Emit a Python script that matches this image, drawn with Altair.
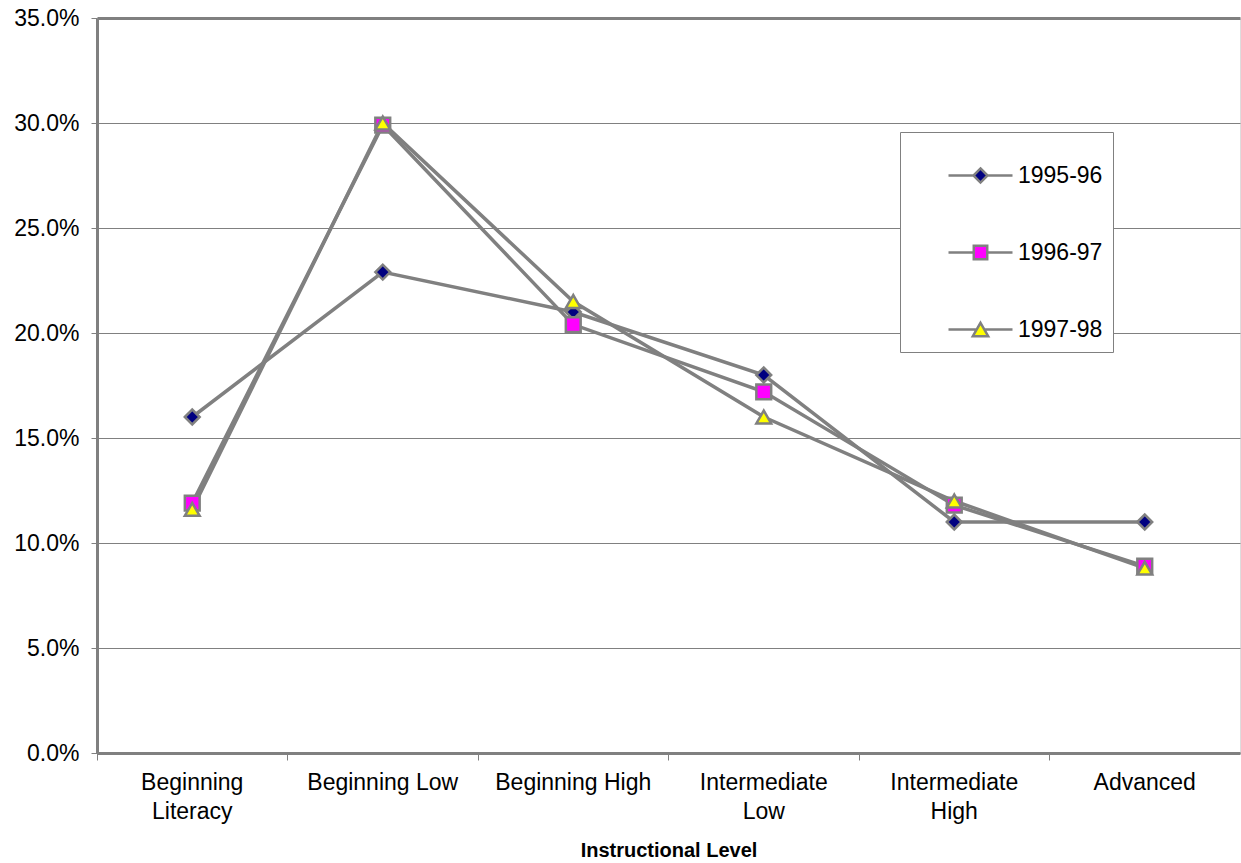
import altair as alt
import pandas as pd

# Share of enrollment by instructional level, three program years (percent)
levels = ["Beginning Literacy", "Beginning Low", "Beginning High",
          "Intermediate Low", "Intermediate High", "Advanced"]
years = ["1995-96", "1996-97", "1997-98"]
share_1995_96 = [16.0, 22.9, 21.0, 18.0, 11.0, 11.0]
share_1996_97 = [11.9, 29.9, 20.4, 17.2, 11.8, 8.9]
share_1997_98 = [11.6, 30.0, 21.5, 16.0, 12.0, 8.8]
y_ticks = [0.0, 0.05, 0.10, 0.15, 0.20, 0.25, 0.30, 0.35]

rows = []
for year, values in zip(years, [share_1995_96, share_1996_97, share_1997_98]):
    for level, v in zip(levels, values):
        rows.append({"level": level, "year": year, "share": v / 100.0})
df = pd.DataFrame(rows)

GRAY = "#808080"
FONT = "Liberation Sans"
marker_fills = ["#000080", "#FF00FF", "#FFFF00"]
marker_shapes = ["diamond", "square", "triangle-up"]
# legend keys: a short line stub with the marker in the middle
legend_keys = [
    "M-1,0L-0.22,0M0.22,0L1,0M0,-0.22L0.22,0L0,0.22L-0.22,0Z",
    "M-1,0L-0.21,0M0.21,0L1,0M-0.21,-0.21L0.21,-0.21L0.21,0.21L-0.21,0.21Z",
    "M-1,0L-0.12,0M0.12,0L1,0M0,-0.21L0.24,0.21L-0.24,0.21Z",
]

two_line = ("datum.value == 'Beginning Literacy' || datum.value == 'Intermediate Low' || "
            "datum.value == 'Intermediate High' ? split(datum.value, ' ') : datum.value")

x_enc = alt.X(
    "level:N", sort=levels,
    scale=alt.Scale(type="band", paddingInner=0, paddingOuter=0),
    axis=alt.Axis(
        title="Instructional Level", bandPosition=0, grid=False,
        labelAngle=0, labelExpr=two_line, labelFontSize=23, labelColor="black",
        labelLineHeight=29, labelPadding=11, labelFont=FONT,
        domainColor=GRAY, domainWidth=3, tickColor=GRAY, tickSize=7, tickWidth=1,
        titleFontSize=20, titleFontWeight="bold", titleColor="black",
        titlePadding=17, titleFont=FONT,
    ),
)
y_enc = alt.Y(
    "share:Q",
    scale=alt.Scale(domain=[0, 0.35], nice=False, zero=True),
    axis=alt.Axis(
        title=None, format=".1%", values=y_ticks,
        grid=True, gridColor=GRAY,
        gridWidth=alt.condition("datum.value > 0.349", alt.value(3), alt.value(1)),
        domainColor=GRAY, domainWidth=3, tickColor=GRAY, tickSize=6,
        labelFontSize=23, labelColor="black", labelPadding=12, labelFont=FONT,
    ),
)

base = alt.Chart(df)

lines = base.mark_line(color=GRAY, strokeWidth=3.5).encode(
    x=x_enc, y=y_enc, detail="year:N"
)

# one marker layer per program year
marker_layers = []
for year, shape, fill in zip(years, marker_shapes, marker_fills):
    marker_layers.append(
        base.transform_filter(alt.datum.year == year)
        .mark_point(shape=shape, fill=fill, filled=True, size=220,
                    stroke=GRAY, strokeWidth=2.5, opacity=1)
        .encode(x=x_enc, y=y_enc)
    )

legend_cfg = alt.Legend(
    title=None, orient="none", legendX=803, legendY=114,
    strokeColor=GRAY, fillColor="white", padding=10,
    symbolSize=4096, symbolStrokeColor=GRAY, symbolStrokeWidth=2.5,
    symbolOffset=37,
    labelFontSize=23, labelFont=FONT, labelColor="black", labelOffset=4,
    rowPadding=31,
)

# key layer: carries the legend only, draws no data marks
legend_layer = base.transform_filter("false").mark_point(
    filled=True, size=4096, stroke=GRAY, strokeWidth=2.5, opacity=1
).encode(
    x=x_enc, y=y_enc,
    shape=alt.Shape("year:N", scale=alt.Scale(domain=years, range=legend_keys), legend=legend_cfg),
    fill=alt.Fill("year:N", scale=alt.Scale(domain=years, range=marker_fills), legend=legend_cfg),
    stroke=alt.Stroke("year:N", scale=alt.Scale(domain=years, range=[GRAY, GRAY, GRAY]), legend=legend_cfg),
)

chart = (
    alt.layer(lines, *marker_layers, legend_layer)
    .properties(
        width=1143, height=735,
        autosize=alt.AutoSizeParams(type="none"),
        padding={"left": 97, "top": 18, "right": 1, "bottom": 110},
        background="white",
    )
    .configure_view(stroke=GRAY, strokeWidth=1)
    .configure(font=FONT)
)

chart.save("out.html", embed_options={"renderer": "svg", "actions": False})
